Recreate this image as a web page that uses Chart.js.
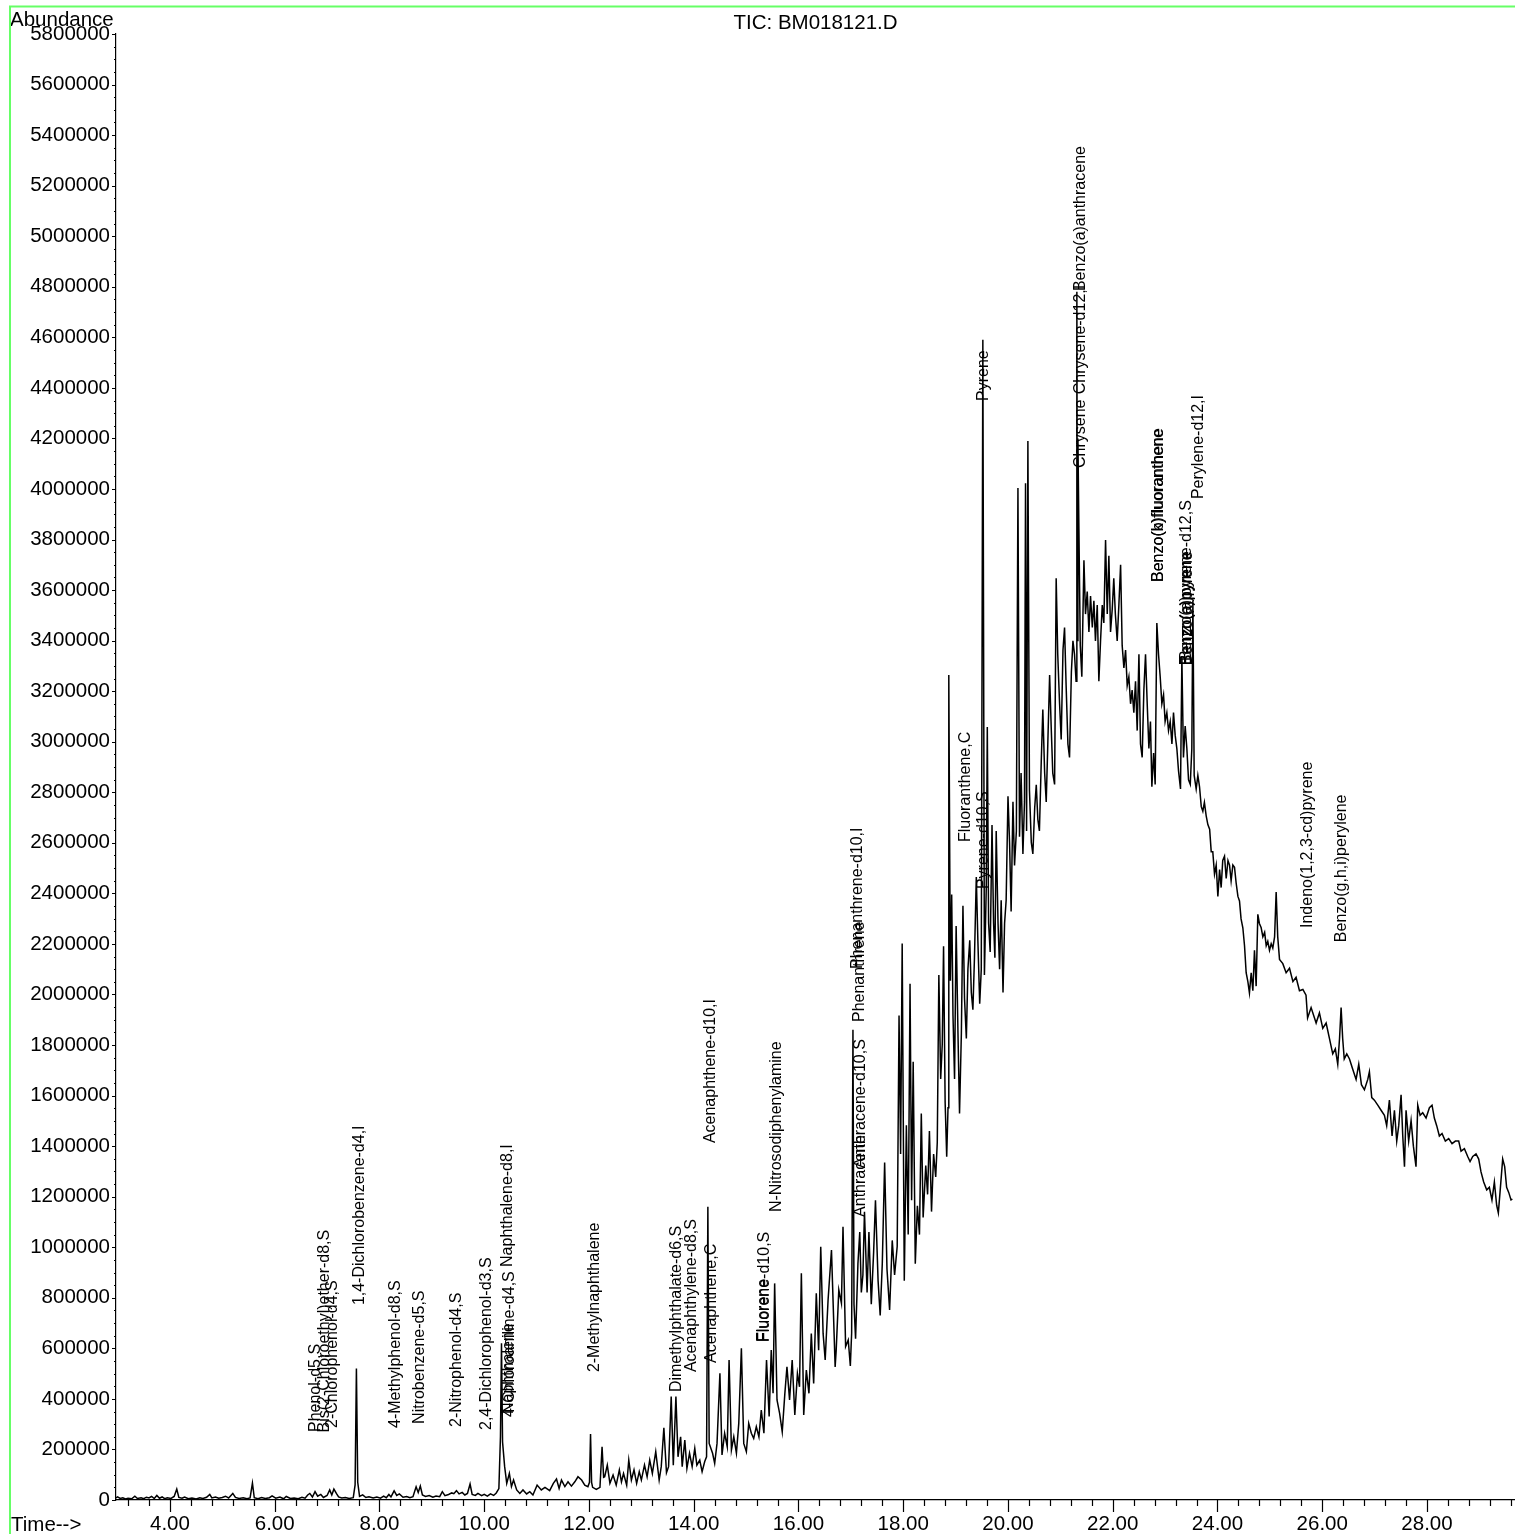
<!DOCTYPE html>
<html><head><meta charset="utf-8">
<script src="https://cdn.jsdelivr.net/npm/chart.js@4.4.1/dist/chart.umd.min.js"></script>
<style>html,body{margin:0;padding:0;background:#fff;overflow:hidden}#wrap{position:relative;width:1515px;height:1534px}</style>
</head><body><div id="wrap"><canvas id="c" width="1515" height="1534"></canvas></div>
<script>
const chartTitle = "TIC: BM018121.D";
const yAxisTitle = "Abundance";
const xAxisTitle = "Time-->";
const xTickValues = [4,6,8,10,12,14,16,18,20,22,24,26,28];
const yTickValues = [0,200000,400000,600000,800000,1000000,1200000,1400000,1600000,1800000,2000000,2200000,2400000,2600000,2800000,3000000,3200000,3400000,3600000,3800000,4000000,4200000,4400000,4600000,4800000,5000000,5200000,5400000,5600000,5800000];

// [retention time (min), abundance]
const segEarly = [[2.97,8000],[3.0,12000],[3.05,6000],[3.1,9000],[3.15,4000],[3.2,7000],[3.27,5000],[3.33,15000],[3.38,6000],[3.45,9000],[3.5,5000],[3.55,11000],[3.6,8000],[3.65,14000],[3.7,6000],[3.75,18000],[3.8,7000],[3.85,12000],[3.9,5000],[3.95,9000],[4.02,6000],[4.08,14000],[4.13,43000],[4.17,10000],[4.23,7000],[4.28,12000],[4.35,5000],[4.42,8000],[4.5,4000],[4.57,9000],[4.63,6000],[4.7,11000],[4.76,22000],[4.8,8000],[4.87,12000],[4.93,7000],[5.0,10000],[5.06,15000],[5.12,8000],[5.2,26000],[5.25,10000],[5.32,6000],[5.4,9000],[5.47,5000],[5.53,8000],[5.575,67000],[5.61,9000],[5.68,5000],[5.75,10000],[5.82,6000],[5.9,9000],[5.95,16000],[6.02,7000],[6.1,12000],[6.17,5000],[6.22,14000],[6.3,6000],[6.37,8000],[6.45,5000],[6.52,11000],[6.58,7000],[6.63,20000],[6.67,26000],[6.72,12000],[6.77,33000],[6.82,15000],[6.88,22000],[6.93,10000],[7.0,18000],[7.05,40000],[7.09,20000],[7.13,43000],[7.18,25000],[7.22,12000],[7.28,8000],[7.35,10000],[7.42,6000],[7.5,9000],[7.535,60000],[7.56,520000],[7.585,70000],[7.62,14000],[7.68,20000],[7.74,10000],[7.8,13000],[7.88,8000],[7.95,12000],[8.02,7000],[8.08,15000],[8.13,9000],[8.18,22000],[8.22,12000],[8.28,36000],[8.33,18000],[8.38,24000],[8.45,11000],[8.52,14000],[8.58,9000],[8.64,13000],[8.7,52000],[8.74,30000],[8.78,55000],[8.82,20000],[8.88,14000],[8.95,18000],[9.02,11000],[9.08,16000],[9.15,13000],[9.2,33000],[9.25,17000],[9.32,22000],[9.38,28000],[9.42,25000],[9.47,37000],[9.52,24000],[9.58,30000],[9.63,20000],[9.68,26000],[9.73,63000],[9.77,22000],[9.83,18000],[9.88,26000],[9.95,17000],[10.0,22000],[10.06,15000],[10.12,24000],[10.18,18000],[10.23,28000],[10.28,45000]];

const segMid = [[10.31,250000],[10.33,620000],[10.35,230000],[10.39,132000],[10.43,66000],[10.48,105000],[10.52,53000],[10.56,79000],[10.62,40000],[10.68,26000],[10.74,40000],[10.81,24000],[10.87,33000],[10.93,20000],[11.01,59000],[11.09,40000],[11.16,50000],[11.25,37000],[11.32,66000],[11.38,83000],[11.43,46000],[11.475,79000],[11.54,53000],[11.6,72000],[11.665,55000],[11.73,72000],[11.79,92000],[11.86,79000],[11.92,59000],[11.98,53000],[12.01,70000],[12.03,261000],[12.05,70000],[12.07,50000],[12.14,42000],[12.21,50000],[12.25,211000],[12.28,90000],[12.3,92000],[12.35,138000],[12.4,66000],[12.46,99000],[12.52,59000],[12.58,119000],[12.62,72000],[12.66,105000],[12.72,59000],[12.76,158000],[12.81,79000],[12.86,119000],[12.91,66000],[12.96,112000],[13.0,79000],[13.06,138000],[13.11,92000],[13.16,158000],[13.21,105000],[13.275,191000],[13.34,79000],[13.38,132000],[13.43,286000],[13.48,108000],[13.52,132000],[13.57,409000],[13.61,138000],[13.66,409000],[13.7,171000],[13.75,250000],[13.78,132000],[13.83,237000],[13.87,125000],[13.92,185000],[13.97,132000],[14.02,204000],[14.06,138000],[14.115,158000],[14.16,112000],[14.21,152000],[14.245,171000],[14.27,1160000],[14.295,224000],[14.36,185000],[14.4,145000],[14.445,224000],[14.5,501000],[14.54,178000],[14.59,264000],[14.64,211000],[14.675,554000],[14.72,198000],[14.765,250000],[14.815,185000],[14.86,303000],[14.91,600000],[14.955,224000],[15.005,191000],[15.05,303000],[15.1,264000],[15.145,244000],[15.195,290000],[15.245,250000],[15.29,356000],[15.34,264000],[15.39,554000],[15.44,330000],[15.48,593000],[15.515,422000],[15.545,857000],[15.59,396000],[15.64,343000],[15.69,270000],[15.74,422000],[15.78,527000],[15.83,396000],[15.88,554000],[15.93,336000],[15.98,501000],[16.02,448000],[16.055,897000],[16.1,336000],[16.15,514000],[16.2,422000],[16.245,659000],[16.29,461000],[16.34,818000],[16.385,593000],[16.425,1002000],[16.47,659000],[16.51,554000],[16.565,791000],[16.63,989000],[16.68,659000],[16.7,526000],[16.72,593000],[16.77,831000],[16.82,778000],[16.85,1081000],[16.9,607000],[16.95,633000],[16.99,530000],[17.015,661000],[17.04,1860000],[17.06,775000]];

const segHump = [[17.09,638000],[17.135,935000],[17.17,1060000],[17.2,821000],[17.23,890000],[17.26,1140000],[17.31,821000],[17.345,1060000],[17.39,775000],[17.435,981000],[17.47,1186000],[17.52,867000],[17.56,730000],[17.6,935000],[17.645,1335000],[17.69,913000],[17.74,752000],[17.79,1027000],[17.835,890000],[17.885,1004000],[17.92,1917000],[17.95,1369000],[17.98,2202000],[18.02,867000],[18.06,1483000],[18.095,1050000],[18.13,2042000],[18.16,1186000],[18.19,1734000],[18.23,935000],[18.27,1164000],[18.31,1050000],[18.345,1529000],[18.38,1118000],[18.43,1323000],[18.465,1209000],[18.5,1460000],[18.54,1141000],[18.58,1369000],[18.62,1278000],[18.65,1415000],[18.68,2077000],[18.715,1666000],[18.745,1803000],[18.77,2191000],[18.8,1574000],[18.83,1358000],[18.855,1552000],[18.87,3264000],[18.9,2054000],[18.925,2396000],[18.95,1917000],[18.98,1666000],[19.01,2271000],[19.045,1848000],[19.075,1529000],[19.11,1848000],[19.14,2351000],[19.17,1985000],[19.205,1826000],[19.235,2100000],[19.27,2214000],[19.3,2008000],[19.33,1940000],[19.36,2145000],[19.395,2465000],[19.425,2214000],[19.46,1963000],[19.49,2100000],[19.52,4590000],[19.55,2077000],[19.585,2419000],[19.605,3058000],[19.63,2282000],[19.66,2168000],[19.695,2670000],[19.725,2282000],[19.75,2145000],[19.775,2647000],[19.81,2282000],[19.84,2100000],[19.87,2373000],[19.905,2008000],[19.935,2282000],[19.965,2373000],[20.0,2784000],[20.03,2602000],[20.06,2328000],[20.095,2762000],[20.125,2510000],[20.16,2647000],[20.19,4004000],[20.22,2624000],[20.25,2876000],[20.285,2556000],[20.315,2762000],[20.335,4023000],[20.355,2647000],[20.38,4190000],[20.41,2807000],[20.445,2602000],[20.475,2556000],[20.51,2739000],[20.54,2830000],[20.57,2693000],[20.6,2647000],[20.635,2921000],[20.665,3127000],[20.7,2876000],[20.73,2762000],[20.76,2990000],[20.795,3264000],[20.825,3058000],[20.855,2876000],[20.89,2831000],[20.92,3647000],[20.95,3346000],[20.985,3150000],[21.016,3009000],[21.05,3363000],[21.08,3452000],[21.11,3222000],[21.144,2991000],[21.175,2938000],[21.21,3275000],[21.24,3399000],[21.27,3346000],[21.3,3239000],[21.315,4780000],[21.325,3400000],[21.335,4200000],[21.354,3842000],[21.38,3381000],[21.41,3257000],[21.45,3718000],[21.48,3505000],[21.513,3594000],[21.545,3434000],[21.576,3576000],[21.61,3452000],[21.64,3558000],[21.67,3399000],[21.704,3541000],[21.735,3239000],[21.767,3399000],[21.8,3541000],[21.83,3470000],[21.863,3798000],[21.895,3505000],[21.926,3736000],[21.958,3434000],[21.99,3523000],[22.02,3647000],[22.05,3505000],[22.085,3399000],[22.117,3541000],[22.15,3700000],[22.18,3381000],[22.213,3292000],[22.245,3363000],[22.276,3222000],[22.308,3257000],[22.34,3150000],[22.37,3204000],[22.403,3115000],[22.435,3239000],[22.467,3044000],[22.5,3346000],[22.53,2991000],[22.562,2938000],[22.594,3204000],[22.626,3346000],[22.658,3150000],[22.69,2973000],[22.72,3080000],[22.747,2822000],[22.78,2955000],[22.81,2831000],[22.842,3470000],[22.874,3346000],[22.906,3257000],[22.938,3150000],[22.97,3186000],[23.0,3080000],[23.033,3115000],[23.065,3044000],[23.097,3080000],[23.13,2991000],[23.16,3115000],[23.192,3026000],[23.224,2973000],[23.256,2884000],[23.294,2813000],[23.32,3330000],[23.35,2938000],[23.383,3062000],[23.415,2973000],[23.447,2849000],[23.48,2831000],[23.51,2973000],[23.53,3560000],[23.555,2867000]];

const segTail = [[23.593,2813000],[23.625,2867000],[23.657,2822000],[23.69,2743000],[23.72,2725000],[23.75,2760000],[23.784,2707000],[23.816,2672000],[23.85,2654000],[23.88,2565000],[23.91,2565000],[23.943,2476000],[23.975,2512000],[24.007,2388000],[24.04,2494000],[24.07,2423000],[24.1,2530000],[24.134,2547000],[24.166,2459000],[24.2,2530000],[24.23,2512000],[24.26,2450000],[24.293,2512000],[24.325,2503000],[24.356,2441000],[24.39,2388000],[24.42,2370000],[24.45,2299000],[24.484,2264000],[24.516,2193000],[24.547,2086000],[24.58,2051000],[24.61,2006000],[24.643,2086000],[24.675,2015000],[24.706,2175000],[24.738,2033000],[24.77,2317000],[24.8,2281000],[24.834,2264000],[24.866,2228000],[24.9,2246000],[24.93,2193000],[24.96,2210000],[24.993,2175000],[25.025,2201000],[25.056,2184000],[25.09,2228000],[25.12,2405000],[25.15,2228000],[25.184,2139000],[25.247,2122000],[25.31,2086000],[25.375,2104000],[25.44,2051000],[25.5,2068000],[25.565,2015000],[25.63,2020000],[25.69,1997000],[25.72,1907000],[25.787,1948000],[25.883,1887000],[25.946,1927000],[26.01,1866000],[26.074,1887000],[26.137,1826000],[26.2,1765000],[26.25,1785000],[26.296,1724000],[26.33,1826000],[26.36,1948000],[26.39,1826000],[26.42,1745000],[26.468,1765000],[26.52,1745000],[26.582,1704000],[26.646,1664000],[26.697,1724000],[26.748,1643000],[26.805,1623000],[26.869,1664000],[26.9,1694000],[26.945,1592000],[26.996,1582000],[27.06,1562000],[27.123,1542000],[27.187,1522000],[27.23,1481000],[27.282,1582000],[27.333,1440000],[27.378,1542000],[27.422,1420000],[27.46,1481000],[27.505,1603000],[27.537,1440000],[27.57,1319000],[27.6,1542000],[27.65,1420000],[27.696,1501000],[27.74,1400000],[27.79,1319000],[27.823,1562000],[27.868,1522000],[27.918,1532000],[27.982,1511000],[28.046,1552000],[28.096,1562000],[28.14,1511000],[28.185,1481000],[28.236,1440000],[28.287,1450000],[28.35,1420000],[28.414,1430000],[28.478,1410000],[28.542,1420000],[28.605,1420000],[28.65,1380000],[28.714,1390000],[28.777,1359000],[28.822,1339000],[28.873,1359000],[28.936,1369000],[28.987,1349000],[29.031,1298000],[29.082,1258000],[29.14,1227000],[29.19,1237000],[29.24,1187000],[29.286,1258000],[29.33,1166000],[29.362,1136000],[29.394,1217000],[29.445,1349000],[29.483,1319000],[29.52,1237000],[29.56,1217000],[29.604,1187000],[29.63,1190000]];

// peak annotations: text, retention time of label baseline, abundance where the label starts
const peakLabels = ["Phenol-d5,S","Bis(2-Chloroethyl)ether-d8,S","2-Chlorophenol-d4,S","1,4-Dichlorobenzene-d4,I","4-Methylphenol-d8,S","Nitrobenzene-d5,S","2-Nitrophenol-d4,S","2,4-Dichlorophenol-d3,S","4-Chloroaniline-d4,S","Naphthalene","Naphthalene-d8,I","2-Methylnaphthalene","Dimethylphthalate-d6,S","Acenaphthylene-d8,S","Acenaphthene,C","Acenaphthene-d10,I","Fluorene","Fluorene-d10,S","N-Nitrosodiphenylamine","Anthracene","Anthracene-d10,S","Phenanthrene","Phenanthrene-d10,I","Fluoranthene,C","Pyrene-d10,S","Pyrene","Chrysene","Chrysene-d12,I","Benzo(a)anthracene","Benzo(b)fluoranthene","Benzo(k)fluoranthene","Benzo(e)pyrene","Benzo(a)pyrene","Benzo(a)pyrene-d12,S","Perylene-d12,I","Indeno(1,2,3-cd)pyrene","Benzo(g,h,i)perylene"];
const labelTimes = [6.872,7.034,7.197,7.702,8.389,8.847,9.563,10.126,10.565,10.546,10.527,12.187,13.761,14.048,14.429,14.401,15.412,15.441,15.67,17.263,17.263,17.254,17.206,19.267,19.611,19.611,21.462,21.462,21.462,22.969,22.969,23.485,23.52,23.50,23.714,25.813,26.452];
const labelAbund = [269000,267000,285000,771000,285000,301000,289000,277000,328000,340000,922000,506000,427000,506000,542000,1412000,625000,625000,1139000,1120000,1313000,1891000,2101000,2603000,2417000,4348000,4083000,4375000,4783000,3632000,3632000,3303000,3303000,3319000,3960000,2263000,2207000];

const FONT = '"Liberation Sans", Arial, Helvetica, sans-serif';
const points = [].concat(segEarly, segMid, segHump, segTail).map(p => ({x: p[0], y: p[1]}));

const decor = {
  id: 'decor',
  afterDraw(chart) {
    const ctx = chart.ctx, xs = chart.scales.x, ys = chart.scales.y, ca = chart.chartArea;
    ctx.save();
    ctx.strokeStyle = '#000'; ctx.lineWidth = 1.2;
    ctx.beginPath();
    for (let k = 8; k <= 74; k++) {
      const v = k * 0.4;
      const px = Math.round(xs.getPixelForValue(v)) + 0.5;
      const len = (k % 5 === 0) ? 12 : 6;
      ctx.moveTo(px, ca.bottom); ctx.lineTo(px, ca.bottom + len);
    }
    for (let k = 0; k <= 116; k++) {
      const v = k * 50000;
      const py = Math.round(ys.getPixelForValue(v)) + 0.5;
      const len = (k % 4 === 0) ? 4 : 2;
      ctx.moveTo(ca.left, py); ctx.lineTo(ca.left - len, py);
    }
    ctx.stroke();
    ctx.fillStyle = '#000';
    ctx.font = '20.5px ' + FONT;
    ctx.textBaseline = 'alphabetic';
    ctx.textAlign = 'left';
    ctx.fillText(yAxisTitle, 10, 26);
    ctx.fillText(xAxisTitle, 11, 1531);
    ctx.textAlign = 'center';
    ctx.fillText(chartTitle, (ca.left + ca.right) / 2, 29);
    ctx.font = '16px ' + FONT;
    ctx.textAlign = 'left';
    for (let i = 0; i < peakLabels.length; i++) {
      const px = xs.getPixelForValue(labelTimes[i]);
      const py = ys.getPixelForValue(labelAbund[i]);
      ctx.save();
      ctx.translate(px, py);
      ctx.rotate(-Math.PI / 2);
      ctx.fillText(peakLabels[i], 0, 0);
      ctx.restore();
    }
    ctx.strokeStyle = '#66ff66'; ctx.lineWidth = 2;
    ctx.beginPath();
    ctx.moveTo(10, 1534); ctx.lineTo(10, 6.5); ctx.lineTo(1515, 6.5);
    ctx.stroke();
    ctx.restore();
  }
};

new Chart(document.getElementById('c').getContext('2d'), {
  type: 'line',
  data: { datasets: [{ data: points, borderColor: '#000', borderWidth: 1.5, pointRadius: 0, tension: 0, fill: false }] },
  options: {
    responsive: false, animation: false, devicePixelRatio: 1,
    layout: { padding: { top: 34, left: 0, right: 0, bottom: 0 } },
    plugins: { legend: { display: false }, tooltip: { enabled: false }, title: { display: false } },
    scales: {
      x: {
        type: 'linear', min: 2.97, max: 29.68,
        grid: { display: false, drawTicks: false },
        border: { display: true, color: '#000', width: 1.2 },
        ticks: { autoSkip: false, maxRotation: 0, padding: 12, color: '#000', font: { family: FONT, size: 20.5 }, callback: v => Number(v).toFixed(2) },
        afterBuildTicks: s => { s.ticks = xTickValues.map(v => ({ value: v })); },
        afterFit: s => { s.height = 34; }
      },
      y: {
        type: 'linear', min: 0, max: 5800000,
        grid: { display: false, drawTicks: false },
        border: { display: true, color: '#000', width: 1.2 },
        ticks: { autoSkip: false, padding: 6, color: '#000', font: { family: FONT, size: 20.5 }, callback: v => String(v) },
        afterBuildTicks: s => { s.ticks = yTickValues.map(v => ({ value: v })); },
        afterFit: s => { s.width = 116; }
      }
    }
  },
  plugins: [decor]
});
</script></body></html>
